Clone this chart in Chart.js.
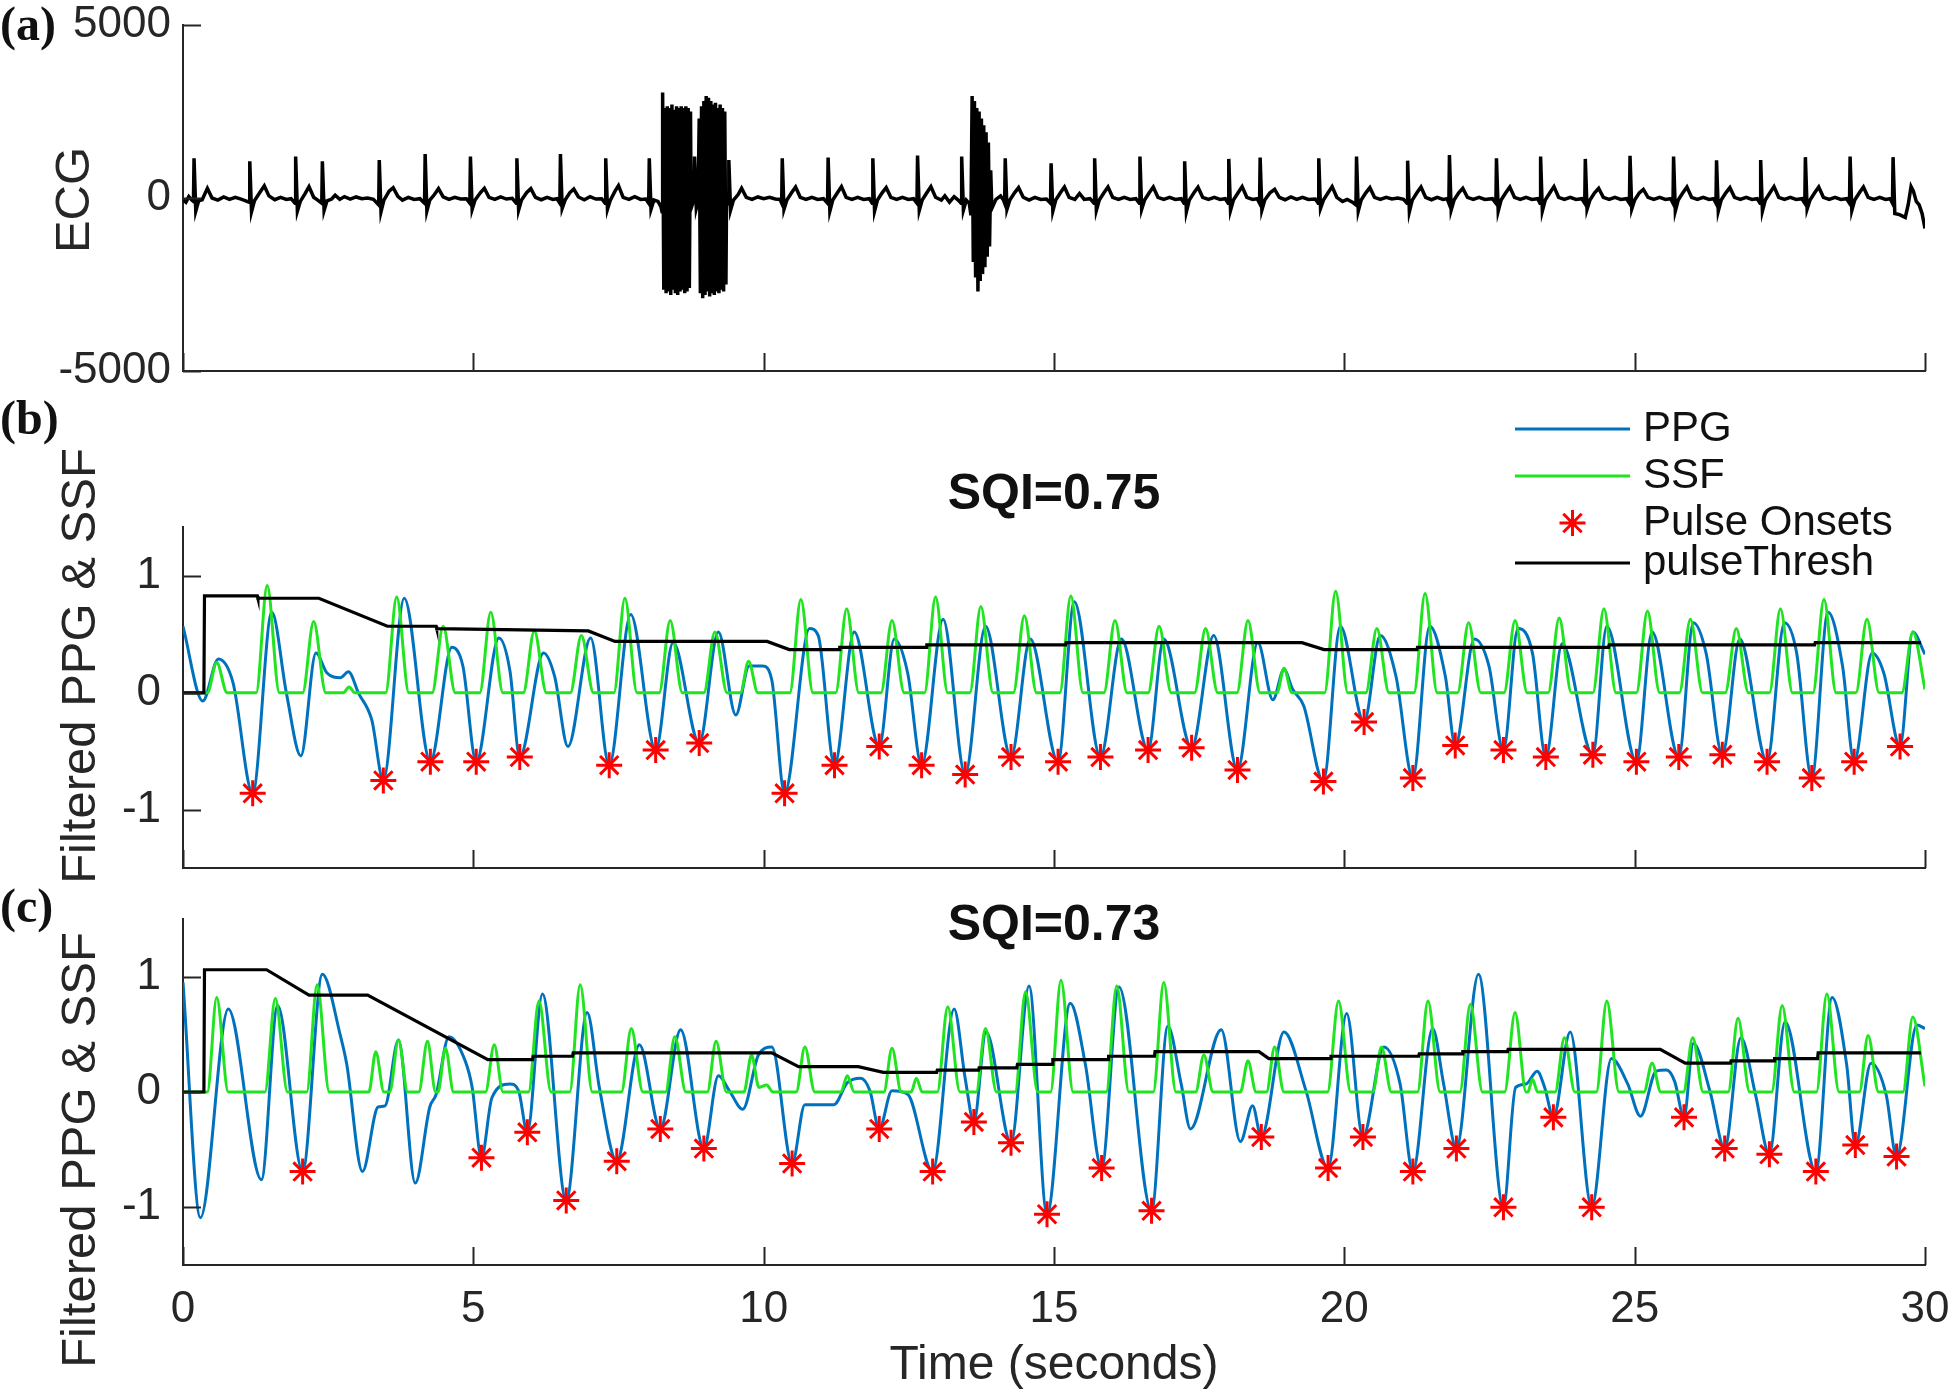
<!DOCTYPE html>
<html>
<head>
<meta charset="utf-8">
<script src="https://cdn.jsdelivr.net/npm/chart.js@4.4.1/dist/chart.umd.min.js"></script>
<style>
  html, body { margin: 0; padding: 0; background: #fff; }
  #wrap { position: relative; width: 1950px; height: 1398px; background: #fff; overflow: hidden; }
  canvas { position: absolute; left: 0; }
</style>
</head>
<body>
<div id="wrap">
  <canvas id="ecgChart" width="1950" height="400" style="top:0px"></canvas>
  <canvas id="chartB" width="1950" height="520" style="top:380px"></canvas>
  <canvas id="chartC" width="1950" height="518" style="top:880px"></canvas>
</div>
<script>
// tick values
const timeTicks = [0, 5, 10, 15, 20, 25, 30];
const ecgTicks = [-5000, 0, 5000];
const ppgTicks = [-1, 0, 1];

// (a) ECG, [seconds, value]
const ecg = [
  [0,-50],[0.05,-120],[0.10,40],[0.15,-60],[0.18,-100],[0.19,1150],[0.22,-380],[0.27,-80],[0.33,-50],[0.42,280],[0.50,0],[0.60,-60],[0.70,30],[0.80,-40],[0.90,20],[1.00,-30],[1.08,-80],
  [1.14,-120],[1.15,1060],[1.18,-400],[1.23,-80],[1.32,150],[1.40,350],[1.48,60],[1.58,-50],[1.68,20],[1.78,-40],[1.86,-20],
  [1.93,-150],[1.94,1200],[1.97,-380],[2.02,-100],[2.10,120],[2.17,330],[2.25,20],[2.32,-60],
  [2.39,-150],[2.40,1060],[2.43,-360],[2.48,-80],[2.56,-30],[2.62,80],[2.70,-40],[2.78,40],[2.88,-30],[2.98,30],[3.08,-20],[3.18,0],[3.28,-40],
  [3.37,-200],[3.38,1100],[3.41,-400],[3.46,-60],[3.55,200],[3.62,300],[3.70,50],[3.78,-60],[3.88,20],[3.98,-40],[4.08,-20],
  [4.16,-150],[4.17,1270],[4.20,-380],[4.25,-60],[4.33,100],[4.40,270],[4.48,30],[4.58,-40],[4.68,20],[4.78,-30],[4.88,-20],
  [4.94,-150],[4.95,1200],[4.98,-330],[5.03,-60],[5.12,150],[5.19,280],[5.27,20],[5.37,-40],[5.47,30],[5.57,-30],[5.67,-10],
  [5.74,-150],[5.75,1150],[5.78,-350],[5.83,-60],[5.92,160],[5.99,270],[6.07,20],[6.17,-50],[6.27,20],[6.37,-40],[6.44,-20],
  [6.49,-150],[6.50,1270],[6.53,-300],[6.58,-60],[6.66,150],[6.73,260],[6.81,30],[6.91,-50],[7.01,40],[7.11,-30],[7.21,-20],
  [7.27,-150],[7.28,1150],[7.31,-330],[7.36,-60],[7.44,200],[7.50,360],[7.58,20],[7.68,-40],[7.78,40],[7.88,-40],[7.97,-30],
  [8.02,-150],[8.03,1150],[8.06,-330],[8.11,-60],[8.18,-100],[8.23,-250],
  [8.25,-400],[8.26,3050],[8.28,-2650],[8.30,2600],[8.32,-2750],[8.34,2650],[8.36,-2700],[8.38,2600],[8.40,-2800],[8.42,2700],[8.44,-2650],[8.46,2550],[8.48,-2750],[8.50,2650],[8.52,-2800],[8.54,2600],[8.56,-2700],[8.58,2650],[8.60,-2650],[8.62,2600],[8.64,-2750],[8.66,2650],[8.68,-2700],[8.70,2600],[8.72,-2600],[8.74,2500],[8.75,-300],
  [8.78,-150],[8.80,-100],[8.81,1200],[8.84,-300],[8.87,-100],
  [8.89,2300],[8.91,-2750],[8.93,2650],[8.95,-2900],[8.97,2800],[8.99,-2800],[9.01,2950],[9.03,-2700],[9.05,2900],[9.07,-2850],[9.09,2800],[9.11,-2750],[9.13,2700],[9.15,-2800],[9.17,2750],[9.19,-2700],[9.21,2600],[9.23,-2750],[9.25,2700],[9.27,-2650],[9.29,2600],[9.31,-2700],[9.33,2500],[9.35,-2500],[9.36,-200],
  [9.39,-150],[9.40,1100],[9.43,-350],[9.48,-60],[9.56,100],[9.62,280],[9.70,20],[9.80,-40],[9.90,30],[10.00,-20],[10.10,20],[10.20,-30],[10.28,-40],
  [10.31,-150],[10.32,1150],[10.35,-330],[10.40,-60],[10.48,150],[10.55,320],[10.63,20],[10.73,-40],[10.83,20],[10.93,-40],[11.03,-20],
  [11.10,-150],[11.11,1170],[11.14,-380],[11.19,-60],[11.27,150],[11.34,330],[11.42,20],[11.52,-40],[11.62,20],[11.72,-40],[11.82,-20],
  [11.87,-150],[11.88,1150],[11.91,-380],[11.96,-60],[12.04,150],[12.11,300],[12.19,20],[12.29,-40],[12.39,20],[12.49,-40],[12.58,-20],
  [12.64,-150],[12.65,1230],[12.68,-360],[12.73,-60],[12.81,150],[12.88,330],[12.96,20],[13.06,-60],[13.12,60],[13.20,-120],[13.28,40],[13.35,-60],
  [13.40,-150],[13.41,1200],[13.44,-350],[13.49,-60],[13.54,-150],[13.57,-500],
  [13.59,2950],[13.61,-1850],[13.63,2800],[13.65,-2300],[13.67,2600],[13.69,-2700],[13.71,2500],[13.73,-2400],[13.75,2300],[13.77,-2200],[13.79,2100],[13.81,-2000],[13.83,1900],[13.85,-1700],[13.87,1600],[13.89,-1400],[13.91,800],[13.93,-300],
  [14.00,-40],[14.08,60],[14.13,-60],
  [14.15,-150],[14.16,1150],[14.19,-330],[14.24,-60],[14.32,150],[14.39,300],[14.47,20],[14.57,-60],[14.67,20],[14.77,-40],[14.87,-30],
  [14.94,-150],[14.95,1000],[14.98,-380],[15.03,-60],[15.11,150],[15.18,320],[15.26,20],[15.36,-40],[15.44,130],[15.52,-40],[15.62,-20],
  [15.69,-150],[15.70,1150],[15.73,-360],[15.78,-60],[15.86,150],[15.93,320],[16.01,20],[16.11,-40],[16.21,20],[16.31,-40],[16.41,-20],
  [16.47,-150],[16.48,1200],[16.51,-330],[16.56,-60],[16.64,150],[16.71,320],[16.79,20],[16.89,-40],[16.99,20],[17.09,-40],[17.19,-20],
  [17.24,-150],[17.25,1060],[17.28,-400],[17.33,-60],[17.41,150],[17.48,310],[17.56,20],[17.66,-40],[17.76,20],[17.86,-40],[17.95,-20],
  [18.00,-150],[18.01,1130],[18.04,-360],[18.09,-60],[18.17,150],[18.24,330],[18.32,20],[18.42,-40],[18.50,-20],
  [18.54,-150],[18.55,1170],[18.58,-350],[18.63,-60],[18.72,150],[18.80,250],[18.88,20],[18.98,-50],[19.08,30],[19.18,-40],[19.28,20],[19.38,-40],[19.50,-30],
  [19.55,-150],[19.56,1150],[19.59,-300],[19.64,-60],[19.72,150],[19.79,330],[19.87,20],[19.97,-100],[20.05,-40],[20.14,-120],
  [20.20,-200],[20.21,1200],[20.24,-380],[20.29,-60],[20.37,150],[20.44,300],[20.52,20],[20.62,-40],[20.72,20],[20.82,-30],[20.92,0],[21.02,-40],
  [21.08,-150],[21.09,1080],[21.12,-400],[21.17,-60],[21.25,150],[21.32,320],[21.40,20],[21.50,-50],[21.60,20],[21.70,-40],[21.77,-20],
  [21.80,-150],[21.81,1240],[21.84,-350],[21.89,-60],[21.97,150],[22.04,280],[22.12,20],[22.22,-40],[22.32,20],[22.42,-40],[22.55,-20],
  [22.61,-150],[22.62,1150],[22.65,-380],[22.70,-60],[22.78,150],[22.85,320],[22.93,20],[23.03,-40],[23.13,20],[23.23,-40],[23.33,-20],
  [23.37,-150],[23.38,1200],[23.41,-380],[23.46,-60],[23.54,150],[23.61,330],[23.69,20],[23.79,-40],[23.89,20],[23.99,-40],[24.09,-20],
  [24.14,-150],[24.15,1130],[24.18,-330],[24.23,-60],[24.31,150],[24.38,280],[24.46,20],[24.56,-40],[24.66,20],[24.76,-40],[24.86,-20],
  [24.91,-150],[24.92,1220],[24.95,-320],[25.00,-60],[25.08,150],[25.15,250],[25.23,20],[25.33,-40],[25.43,20],[25.53,-40],[25.62,-20],
  [25.66,-150],[25.67,1200],[25.70,-380],[25.75,-60],[25.83,150],[25.90,320],[25.98,20],[26.08,-40],[26.18,20],[26.28,-40],[26.36,-20],
  [26.40,-150],[26.41,1090],[26.44,-380],[26.49,-60],[26.57,150],[26.64,300],[26.72,20],[26.82,-40],[26.92,20],[27.02,-40],[27.11,-20],
  [27.16,-150],[27.17,1100],[27.20,-380],[27.25,-60],[27.33,150],[27.40,330],[27.48,20],[27.58,-40],[27.68,20],[27.78,-40],[27.88,-20],
  [27.93,-150],[27.94,1180],[27.97,-320],[28.02,-60],[28.10,150],[28.17,320],[28.25,20],[28.35,-40],[28.45,20],[28.55,-40],[28.65,-20],
  [28.70,-150],[28.71,1200],[28.74,-360],[28.79,-60],[28.87,150],[28.94,320],[29.02,20],[29.12,-40],[29.22,20],[29.32,-40],[29.40,-20],
  [29.44,-150],[29.45,1180],[29.48,-450],[29.56,-480],[29.66,-560],[29.71,-200],[29.76,330],[29.80,200],[29.85,-100],[29.90,-200],[29.95,-450],[30.00,-880]
];

// (b) SQI=0.75
const ppgB = [
  [0.00,0.57],[0.34,-0.07],[0.61,0.29],[0.86,0.09],[1.20,-0.86],[1.53,0.69],[1.78,0.00],[2.03,-0.54],[2.29,0.34],[2.48,0.17],
  [2.71,0.13],[2.85,0.18],[3.02,0.00],[3.25,-0.23],[3.45,-0.75],[3.81,0.81],[4.26,-0.59],[4.63,0.39],[4.82,0.23],[5.05,-0.59],
  [5.44,0.47],[5.63,0.19],[5.80,-0.55],[6.21,0.34],[6.40,0.14],[6.63,-0.46],[7.02,0.47],[7.34,-0.62],[7.71,0.67],[8.14,-0.49],
  [8.44,0.43],[8.89,-0.43],[9.22,0.52],[9.52,-0.19],[9.75,0.23],[9.98,0.23],[10.14,0.11],[10.36,-0.86],[10.79,0.55],[10.94,0.49],
  [11.22,-0.62],[11.56,0.52],[11.99,-0.46],[12.25,0.46],[12.48,0.17],[12.72,-0.62],[13.09,0.63],[13.47,-0.70],[13.82,0.57],[14.26,-0.55],
  [14.59,0.46],[15.07,-0.59],[15.35,0.78],[15.80,-0.55],[16.16,0.46],[16.62,-0.49],[16.89,0.46],[17.37,-0.47],[17.75,0.49],[18.16,-0.66],
  [18.51,0.43],[18.77,-0.06],[18.96,0.20],[19.11,0.03],[19.30,-0.11],[19.64,-0.76],[19.93,0.57],[20.34,-0.25],[20.62,0.49],[20.89,0.14],
  [21.18,-0.73],[21.47,0.57],[21.74,0.14],[21.91,-0.45],[22.24,0.46],[22.49,0.23],[22.74,-0.49],[22.99,0.55],[23.24,0.34],[23.47,-0.55],
  [23.75,0.42],[24.28,-0.53],[24.52,0.57],[25.03,-0.59],[25.30,0.52],[25.76,-0.55],[26.01,0.60],[26.23,0.34],[26.51,-0.53],[26.81,0.46],
  [27.28,-0.59],[27.58,0.60],[27.79,0.34],[28.05,-0.73],[28.33,0.69],[28.58,0.23],[28.78,-0.59],[29.09,0.34],[29.29,0.17],[29.57,-0.46],
  [29.79,0.52],[30.00,0.33]
];
const ssfB = [
  [0,0],[0.42,0],[0.58,0.26],[0.76,0],[1.26,0],[1.45,0.92],[1.66,0],[2.06,0],[2.25,0.61],[2.46,0],[2.76,0],[2.86,0.05],[2.96,0],
  [3.49,0],[3.68,0.82],[3.89,0],[4.29,0],[4.48,0.57],[4.69,0],[5.11,0],[5.30,0.69],[5.51,0],[5.86,0],[6.05,0.53],[6.26,0],
  [6.67,0],[6.86,0.49],[7.07,0],[7.42,0],[7.61,0.81],[7.82,0],[8.20,0],[8.39,0.62],[8.60,0],[8.97,0],[9.16,0.52],[9.37,0],
  [9.60,0],[9.74,0.27],[9.90,0],[10.45,0],[10.64,0.80],[10.85,0],[11.24,0],[11.43,0.72],[11.64,0],[12.02,0],[12.21,0.62],[12.42,0],
  [12.77,0],[12.96,0.82],[13.17,0],[13.55,0],[13.74,0.74],[13.95,0],[14.30,0],[14.49,0.66],[14.70,0],[15.10,0],[15.29,0.83],[15.50,0],
  [15.86,0],[16.05,0.62],[16.26,0],[16.62,0],[16.81,0.57],[17.02,0],[17.42,0],[17.61,0.55],[17.82,0],[18.15,0],[18.34,0.62],[18.55,0],
  [18.84,0],[18.96,0.21],[19.10,0],[19.66,0],[19.85,0.87],[20.06,0],[20.37,0],[20.56,0.55],[20.77,0],[21.20,0],[21.39,0.85],[21.60,0],
  [21.95,0],[22.14,0.60],[22.35,0],[22.75,0],[22.94,0.62],[23.15,0],[23.51,0],[23.70,0.64],[23.91,0],[24.28,0],[24.47,0.72],[24.68,0],
  [25.03,0],[25.22,0.70],[25.43,0],[25.77,0],[25.96,0.63],[26.17,0],[26.56,0],[26.75,0.55],[26.96,0],[27.32,0],[27.51,0.72],[27.72,0],
  [28.07,0],[28.26,0.80],[28.47,0],[28.81,0],[29.00,0.63],[29.21,0],[29.60,0],[29.79,0.52],[30.00,0.03]
];
const onsetsB = [
  [1.20,-0.86],[3.45,-0.75],[4.26,-0.59],[5.05,-0.59],[5.80,-0.55],[7.34,-0.62],[8.14,-0.49],[8.89,-0.43],[10.36,-0.86],[11.22,-0.62],
  [11.99,-0.46],[12.72,-0.62],[13.47,-0.70],[14.26,-0.55],[15.07,-0.59],[15.80,-0.55],[16.62,-0.49],[17.37,-0.47],[18.16,-0.66],[19.64,-0.76],
  [20.34,-0.25],[21.18,-0.73],[21.91,-0.45],[22.74,-0.49],[23.47,-0.55],[24.28,-0.53],[25.03,-0.59],[25.76,-0.55],[26.51,-0.53],[27.28,-0.59],
  [28.05,-0.73],[28.78,-0.59],[29.57,-0.46]
];
const threshB = [
  [0,0],[0.36,0],[0.37,0.83],[1.28,0.83],[1.29,0.81],[2.34,0.81],[3.52,0.57],[4.36,0.57],[4.37,0.55],[6.98,0.53],[7.44,0.44],
  [10.06,0.44],[10.44,0.37],[11.30,0.37],[11.31,0.39],[12.80,0.39],[12.81,0.41],[15.20,0.41],[15.21,0.43],[19.27,0.43],[19.65,0.37],
  [21.25,0.37],[21.26,0.39],[24.55,0.39],[24.56,0.41],[28.10,0.41],[28.11,0.43],[29.93,0.43]
];

// (c) SQI=0.73
const ppgC = [
  [0.00,0.95],[0.30,-1.09],[0.78,0.72],[1.35,-0.76],[1.63,0.75],[2.06,-0.69],[2.40,1.02],[2.71,0.49],[2.82,0.24],[3.09,-0.69],
  [3.36,-0.13],[3.48,-0.12],[3.71,0.45],[4.00,-0.79],[4.25,-0.13],[4.36,-0.02],[4.58,0.48],[4.86,0.27],[4.98,0.04],[5.14,-0.57],
  [5.32,-0.05],[5.63,0.07],[5.78,0.01],[5.93,-0.35],[6.19,0.85],[6.60,-0.94],[6.96,0.69],[7.17,0.04],[7.47,-0.60],[7.86,0.41],
  [8.22,-0.32],[8.57,0.54],[8.97,-0.49],[9.22,0.14],[9.41,0.01],[9.64,-0.15],[9.91,0.32],[10.14,0.39],[10.49,-0.62],[10.71,-0.11],
  [11.21,-0.11],[11.44,0.08],[11.67,0.12],[11.83,0.01],[11.99,-0.32],[12.21,0.01],[12.48,-0.02],[12.91,-0.69],[13.28,0.72],[13.47,0.12],
  [13.62,-0.26],[13.83,0.52],[14.26,-0.44],[14.57,0.92],[14.88,-1.06],[15.28,0.77],[15.54,0.24],[15.82,-0.66],[16.12,0.91],[16.68,-1.03],
  [16.96,0.57],[17.19,0.07],[17.35,-0.32],[17.88,0.54],[18.21,-0.43],[18.42,-0.12],[18.57,-0.39],[18.96,0.52],[19.34,0.01],[19.72,-0.66],
  [20.04,0.68],[20.32,-0.39],[20.68,0.39],[20.96,0.07],[21.18,-0.69],[21.52,0.55],[21.71,0.07],[21.93,-0.49],[22.31,1.02],[22.74,-1.00],
  [22.95,0.04],[23.13,0.07],[23.32,0.18],[23.45,0.04],[23.60,-0.22],[23.89,0.52],[24.26,-1.00],[24.60,0.29],[24.88,0.07],[25.10,-0.21],
  [25.37,0.18],[25.55,0.19],[25.69,0.09],[25.85,-0.22],[26.01,0.42],[26.30,0.00],[26.55,-0.49],[26.83,0.47],[27.08,-0.02],[27.32,-0.54],
  [27.59,0.61],[28.12,-0.69],[28.40,0.82],[28.65,0.24],[28.80,-0.46],[29.07,0.25],[29.33,-0.02],[29.51,-0.56],[29.86,0.58],[30.00,0.55]
];
const ssfC = [
  [0,0],[0.42,0],[0.58,0.82],[0.78,0],[1.41,0],[1.59,0.81],[1.80,0],[2.13,0],[2.31,0.93],[2.52,0],[3.20,0],[3.32,0.35],[3.46,0],
  [3.56,0],[3.71,0.45],[3.87,0],[4.06,0],[4.21,0.44],[4.35,0],[4.39,0],[4.52,0.38],[4.66,0],[5.21,0],[5.36,0.41],[5.51,0],
  [5.95,0],[6.13,0.79],[6.34,0],[6.66,0],[6.84,0.93],[7.05,0],[7.55,0],[7.72,0.55],[7.92,0],[8.31,0],[8.47,0.48],[8.66,0],
  [9.03,0],[9.18,0.44],[9.36,0],[9.66,0],[9.79,0.32],[9.92,0.04],[10.05,0.06],[10.16,0],[10.56,0],[10.71,0.39],[10.88,0],
  [11.33,0],[11.44,0.14],[11.56,0],[12.07,0],[12.21,0.38],[12.37,0],[12.54,0],[12.63,0.12],[12.73,0],[12.99,0],[13.17,0.74],[13.38,0],
  [13.66,0],[13.82,0.55],[14.01,0],[14.33,0],[14.51,0.87],[14.72,0],[14.94,0],[15.12,0.97],[15.33,0],[15.90,0],[16.08,0.92],[16.29,0],
  [16.71,0],[16.89,0.95],[17.10,0],[17.44,0],[17.58,0.32],[17.74,0],[18.21,0],[18.34,0.27],[18.48,0],[18.66,0],[18.80,0.39],[18.96,0],
  [19.71,0],[19.90,0.79],[20.11,0],[20.49,0],[20.64,0.39],[20.81,0],[21.26,0],[21.44,0.79],[21.65,0],[21.99,0],[22.17,0.76],[22.38,0],
  [22.76,0],[22.94,0.69],[23.13,0],[23.16,0],[23.24,0.11],[23.33,0],[23.63,0],[23.79,0.47],[23.97,0],[24.34,0],[24.52,0.79],[24.73,0],
  [25.16,0],[25.30,0.25],[25.45,0],[25.84,0],[26.00,0.47],[26.18,0],[26.61,0],[26.78,0.64],[26.98,0],[27.36,0],[27.54,0.75],[27.75,0],
  [28.13,0],[28.31,0.85],[28.52,0],[28.87,0],[29.02,0.49],[29.20,0],[29.62,0],[29.79,0.65],[30.00,0.05]
];
const onsetsC = [
  [2.06,-0.69],[5.14,-0.57],[5.93,-0.35],[6.60,-0.94],[7.47,-0.60],[8.22,-0.32],[8.97,-0.49],[10.49,-0.62],[11.99,-0.32],[12.91,-0.69],
  [13.62,-0.26],[14.26,-0.44],[14.88,-1.06],[15.82,-0.66],[16.68,-1.03],[18.57,-0.39],[19.72,-0.66],[20.32,-0.39],[21.18,-0.69],[21.93,-0.49],
  [22.74,-1.00],[23.60,-0.22],[24.26,-1.00],[25.85,-0.22],[26.55,-0.49],[27.32,-0.54],[28.12,-0.69],[28.80,-0.46],[29.51,-0.56]
];
const threshC = [
  [0,0],[0.36,0],[0.37,1.06],[1.44,1.06],[2.17,0.84],[3.18,0.84],[5.25,0.28],[6.02,0.28],[6.03,0.31],[6.71,0.31],[6.72,0.34],
  [10.14,0.34],[10.60,0.22],[11.63,0.22],[12.06,0.17],[12.98,0.17],[12.99,0.19],[13.70,0.19],[13.71,0.21],[14.36,0.21],[14.37,0.24],
  [14.97,0.24],[14.98,0.28],[15.93,0.28],[15.94,0.31],[16.73,0.31],[16.74,0.35],[18.53,0.35],[18.70,0.29],[19.76,0.29],[19.77,0.31],
  [21.28,0.31],[21.29,0.33],[22.03,0.33],[22.04,0.35],[22.81,0.35],[22.82,0.37],[25.44,0.37],[25.87,0.25],[26.65,0.25],[26.66,0.27],
  [27.40,0.27],[27.41,0.29],[28.15,0.29],[28.16,0.34],[29.93,0.34]
];

const SANS = '"Liberation Sans", Arial, Helvetica, sans-serif';
const SERIF = '"Liberation Serif", "Times New Roman", serif';
const axisColor = "#262626";
const ppgColor = "#0072BD";
const ssfColor = "#1FE41F";
const onsetColor = "#FF0000";

Chart.defaults.font.family = SANS;
Chart.defaults.color = axisColor;

function drawStar(ctx, x, y, r) {
    const d = r * Math.SQRT1_2;
    ctx.beginPath();
    ctx.moveTo(x - r, y); ctx.lineTo(x + r, y);
    ctx.moveTo(x, y - r); ctx.lineTo(x, y + r);
    ctx.moveTo(x - d, y - d); ctx.lineTo(x + d, y + d);
    ctx.moveTo(x - d, y + d); ctx.lineTo(x + d, y - d);
    ctx.stroke();
}

// inward ticks, panel letter, titles and legend
const decor = {
    id: "decor",
    afterDraw(chart, args, o) {
        const ctx = chart.ctx;
        const area = chart.chartArea;
        const xs = chart.scales.x;
        const ys = chart.scales.y;
        ctx.save();
        ctx.strokeStyle = axisColor;
        ctx.lineWidth = 2;
        ctx.beginPath();
        xs.ticks.forEach(t => {
            const px = Math.round(xs.getPixelForValue(t.value)) + 0.5;
            ctx.moveTo(px, area.bottom);
            ctx.lineTo(px, area.bottom - 18);
        });
        ys.ticks.forEach(t => {
            const py = Math.round(ys.getPixelForValue(t.value)) + 0.5;
            ctx.moveTo(area.left, py);
            ctx.lineTo(area.left + 18, py);
        });
        ctx.stroke();

        ctx.fillStyle = "#111";
        ctx.textBaseline = "middle";
        ctx.textAlign = "left";
        ctx.font = "bold 48px " + SERIF;
        ctx.fillText(o.letter, 0, o.letterY);

        ctx.fillStyle = axisColor;
        ctx.save();
        ctx.translate(o.yTitleX, o.yTitleY);
        ctx.rotate(-Math.PI / 2);
        ctx.textAlign = "center";
        ctx.font = "49px " + SANS;
        ctx.fillText(o.yTitle, 0, 0);
        ctx.restore();

        if (o.title) {
            ctx.textAlign = "center";
            ctx.font = "bold 50px " + SANS;
            ctx.fillStyle = "#111";
            ctx.fillText(o.title, (area.left + area.right) / 2, o.titleY);
        }

        if (o.legend) {
            const L = o.legend;
            ctx.font = "42px " + SANS;
            ctx.textAlign = "left";
            chart.data.datasets.forEach((ds, i) => {
                const y = L.rows[i];
                if (ds.showLine === false) {
                    ctx.strokeStyle = ds.pointBorderColor;
                    ctx.lineWidth = 3;
                    drawStar(ctx, (L.x0 + L.x1) / 2, y, 13);
                } else {
                    ctx.strokeStyle = ds.borderColor;
                    ctx.lineWidth = ds.borderWidth;
                    ctx.beginPath();
                    ctx.moveTo(L.x0, y);
                    ctx.lineTo(L.x1, y);
                    ctx.stroke();
                }
                ctx.fillStyle = "#111";
                ctx.fillText(ds.label, L.textX, y);
            });
        }
        ctx.restore();
    }
};

function timeAxis(height, showLabels) {
    return {
        type: "linear",
        min: 0,
        max: 30,
        afterBuildTicks: s => { s.ticks = timeTicks.map(v => ({ value: v })); },
        afterFit: s => { s.height = height; s.paddingLeft = 0; s.paddingRight = 0; },
        grid: { display: false, drawTicks: false },
        border: { display: true, color: axisColor, width: 2 },
        ticks: {
            display: showLabels,
            padding: 18,
            maxRotation: 0,
            autoSkip: false,
            color: axisColor,
            font: { size: 44, family: SANS },
            callback: v => String(v)
        },
        title: {
            display: showLabels,
            text: "Time (seconds)",
            color: axisColor,
            font: { size: 48, family: SANS },
            padding: { top: 0, bottom: 3 }
        }
    };
}

function valueAxis(min, max, tickValues, pad) {
    return {
        min: min,
        max: max,
        afterBuildTicks: s => { s.ticks = tickValues.map(v => ({ value: v })); },
        afterFit: s => { s.width = 183; s.paddingTop = 0; s.paddingBottom = 0; },
        grid: { display: false, drawTicks: false },
        border: { display: true, color: axisColor, width: 2 },
        ticks: {
            padding: pad,
            color: axisColor,
            font: { size: 44, family: SANS },
            callback: v => String(v)
        }
    };
}

function baseOptions(padTop, xHeight, showX, yMin, yMax, yTicks, yPad, decorOpts) {
    return {
        responsive: false,
        animation: false,
        events: [],
        layout: { autoPadding: false, padding: { top: padTop, right: 25, left: 0, bottom: 0 } },
        plugins: { legend: { display: false }, tooltip: { enabled: false }, decor: decorOpts },
        scales: { x: timeAxis(xHeight, showX), y: valueAxis(yMin, yMax, yTicks, yPad) },
        elements: { point: { radius: 0 } }
    };
}

function ppgDatasets(ppg, ssf, onsets, thresh) {
    return [
        { label: "PPG", data: ppg, borderColor: ppgColor, borderWidth: 3,
          cubicInterpolationMode: "monotone", pointRadius: 0, order: 3 },
        { label: "SSF", data: ssf, borderColor: ssfColor, borderWidth: 3,
          cubicInterpolationMode: "monotone", pointRadius: 0, order: 2 },
        { label: "Pulse Onsets", data: onsets, showLine: false, pointStyle: "star",
          pointRadius: 13, pointBorderWidth: 3, pointBorderColor: onsetColor,
          pointBackgroundColor: onsetColor, borderColor: onsetColor, order: 0 },
        { label: "pulseThresh", data: thresh, borderColor: "#000", borderWidth: 3.2,
          tension: 0, pointRadius: 0, order: 1 }
    ];
}

new Chart(document.getElementById("ecgChart"), {
    type: "line",
    data: { datasets: [{ label: "ECG", data: ecg, borderColor: "#000", borderWidth: 3.5, tension: 0, pointRadius: 0 }] },
    options: baseOptions(25, 29, false, -5000, 5000, ecgTicks, 12,
        { letter: "(a)", letterY: 28, yTitle: "ECG", yTitleX: 75, yTitleY: 200 }),
    plugins: [decor]
});

new Chart(document.getElementById("chartB"), {
    type: "line",
    data: { datasets: ppgDatasets(ppgB, ssfB, onsetsB, threshB) },
    options: baseOptions(147, 32, false, -1.5, 1.42, ppgTicks, 22, {
        letter: "(b)", letterY: 42, yTitle: "Filtered PPG & SSF", yTitleX: 81, yTitleY: 286,
        title: "SQI=0.75", titleY: 115,
        legend: { x0: 1515, x1: 1630, textX: 1643, rows: [49, 96, 143, 183] }
    }),
    plugins: [decor]
});

new Chart(document.getElementById("chartC"), {
    type: "line",
    data: { datasets: ppgDatasets(ppgC, ssfC, onsetsC, threshC) },
    options: baseOptions(39, 133, true, -1.5, 1.5, ppgTicks, 22, {
        letter: "(c)", letterY: 30, yTitle: "Filtered PPG & SSF", yTitleX: 81, yTitleY: 270,
        title: "SQI=0.73", titleY: 46
    }),
    plugins: [decor]
});
</script>
</body>
</html>
